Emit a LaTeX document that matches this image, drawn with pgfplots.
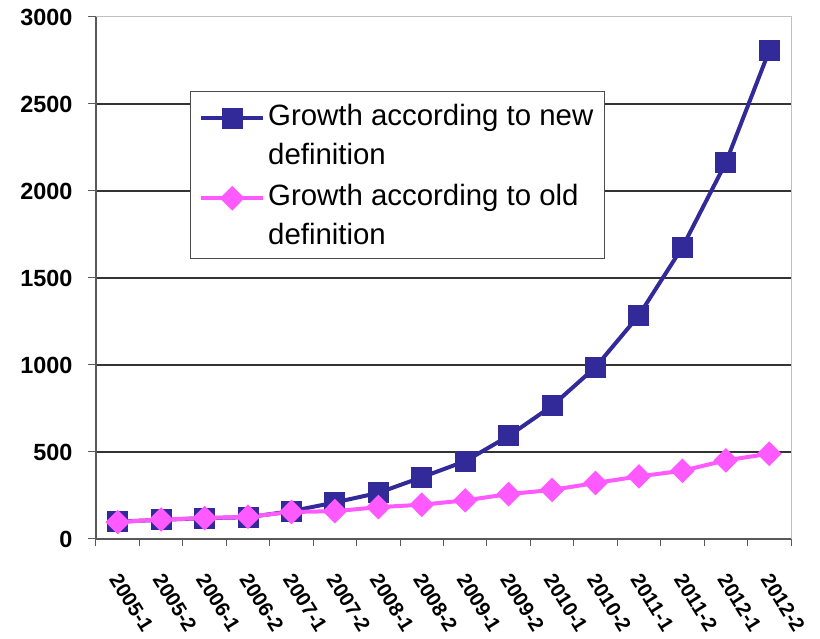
\documentclass[border=0pt]{standalone}
\usepackage{fontspec}
\setmainfont{Liberation Sans}
\usepackage{pgfplots}
\pgfplotsset{compat=1.18}

\definecolor{newdef}{HTML}{332A99}
\definecolor{olddef}{HTML}{FF5AFF}
\definecolor{gridc}{HTML}{333333}

\begin{document}
\begin{tikzpicture}
\begin{axis}[
  scale only axis,
  width=695bp, height=522bp,
  xmin=0, xmax=16, ymin=0, ymax=3000,
  axis x line*=bottom, axis y line*=left,
  axis line style={line width=1.3bp, color=black!65},
  tick align=outside,
  xtick={0.5,1.5,...,15.5},
  xticklabels={2005-1,2005-2,2006-1,2006-2,2007-1,2007-2,2008-1,2008-2,2009-1,2009-2,2010-1,2010-2,2011-1,2011-2,2012-1,2012-2},
  major x tick style={draw=none},
  minor xtick={0,1,...,16},
  minor tick length=7bp,
  minor x tick style={line width=1bp, color=black!65},
  ytick={0,500,...,2500},
  extra y ticks={3000},
  extra y tick style={grid=none},
  major tick length=8bp,
  y tick style={line width=1bp, color=black!65},
  ymajorgrids,
  major grid style={line width=1.1bp, color=gridc},
  /pgf/number format/assume math mode=true,
  /pgf/number format/set thousands separator={},
  yticklabel style={font=\bfseries\fontsize{23.5}{24}\selectfont, xshift=-12bp},
  xticklabel style={font=\bfseries\fontsize{20.5}{21}\selectfont, xshift=-5bp, yshift=-26bp, rotate=-58, anchor=west},
  legend style={
    at={(0.135,0.858)}, anchor=north west,
    draw=black!70, line width=0.8bp, fill=white,
    font=\fontsize{29.5}{38.5}\selectfont,
    cells={align=left},
    inner xsep=9bp, inner ysep=11bp,
    row sep=15bp,
    /tikz/every odd column/.append style={column sep=1bp},
  },
  legend cell align=left,
  legend image code/.code={
    \draw[mark repeat=2,mark phase=2,yshift=17bp,#1] plot coordinates {(0bp,0bp) (31bp,0bp) (62bp,0bp)};
  },
  after end axis/.code={
    \draw[line width=1bp, color=black!25] (rel axis cs:0,1) -- (rel axis cs:1,1) -- (rel axis cs:1,0);
  },
]
% growth according to the new definition
\addplot[color=newdef, line width=4bp, mark=square*, mark size=8.5bp,
  mark options={solid, fill=newdef}]
  coordinates {
  (0.5,100) (1.5,110) (2.5,120) (3.5,125) (4.5,160) (5.5,210) (6.5,265) (7.5,355)
  (8.5,447) (9.5,592) (10.5,765) (11.5,988) (12.5,1286) (13.5,1677) (14.5,2163) (15.5,2807)};
\addlegendentry{Growth according to new\\definition}
% growth according to the old definition
\addplot[color=olddef, line width=4bp, mark=diamond*, mark size=9.5bp,
  mark options={solid, fill=olddef, xscale=1.33}]
  coordinates {
  (0.5,97) (1.5,112) (2.5,120) (3.5,128) (4.5,155) (5.5,160) (6.5,183) (7.5,197)
  (8.5,222) (9.5,258) (10.5,282) (11.5,322) (12.5,360) (13.5,392) (14.5,452) (15.5,490)};
\addlegendentry{Growth according to old\\definition}
\end{axis}
\path ([xshift=-96bp,yshift=-95bp]current axis.south west) rectangle ([xshift=29bp,yshift=17bp]current axis.north east);
\end{tikzpicture}
\end{document}
